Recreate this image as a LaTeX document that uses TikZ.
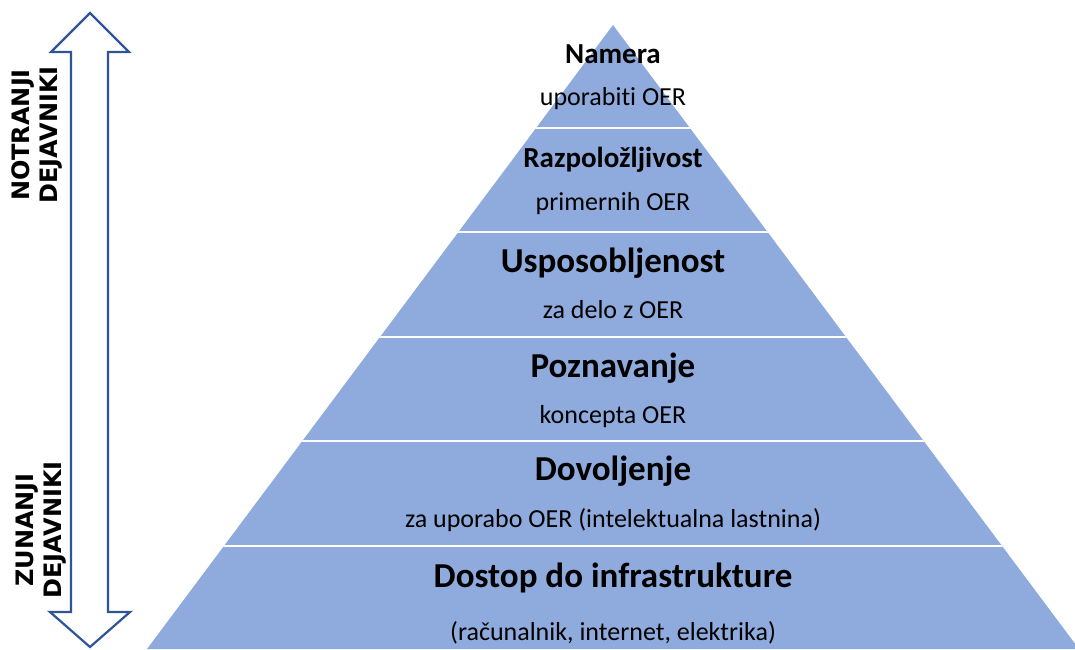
\documentclass[tikz,border=0pt]{standalone}
\usepackage{fontspec}
\setmainfont{Carlito}[Ligatures={NoCommon,NoRare,NoContextual},Contextuals=NoAlternate]
\newfontfamily\sidefont{DejaVu Sans}
\usetikzlibrary{calc}
\definecolor{pyrblue}{RGB}{143,170,220}
\definecolor{arrblue}{RGB}{47,85,151}
\tikzset{
  headsmall/.style={font=\bfseries\fontsize{29}{34}\selectfont, anchor=base},
  headbig/.style={font=\bfseries\fontsize{35}{40}\selectfont, anchor=base},
  subtext/.style={font=\fontsize{26}{30}\selectfont, anchor=base},
  sidetext/.style={font=\sidefont\bfseries\fontsize{24}{28}\selectfont, rotate=90, align=center},
  sepline/.style={white, line width=2},
}

\begin{document}
\begin{tikzpicture}[x=1pt,y=-1pt]
    \useasboundingbox (0,0) rectangle (1075,649);
    % pyramid
    \coordinate (apex) at (613,25);
    \coordinate (bl) at (147,649);
    \coordinate (br) at (1079,649);
    \fill[pyrblue] (apex) -- (bl) -- (br) -- cycle;
    \begin{scope}
      \clip (apex) -- (bl) -- (br) -- cycle;
      \foreach \y in {128,232,337,441,546}
        \draw[sepline] (0,\y) -- (1075,\y);
    \end{scope}

    % double arrow
    \draw[arrblue, line width=2.2, fill=white] (90,13) coordinate (atop)
      -- (129,52) -- (108,52) -- (108,612) -- (130,612)
      -- (90,647) coordinate (abot)
      -- (50,612) -- (71,612) -- (71,52) -- (51,52) -- cycle;

    \node[sidetext] (notranji) at (37,135) {NOTRANJI\\DEJAVNIKI};
    \node[sidetext] (zunanji) at (41,530) {ZUNANJI\\DEJAVNIKI};

    % levels
    \node[headsmall] (namera) at (613,63) {Namera};
    \node[subtext] (namerasub) at (613,105) {uporabiti OER};
    \node[headsmall] (razpol) at (613,167) {Razpoložljivost};
    \node[subtext] (razpolsub) at (613,210) {primernih OER};
    \node[headbig] (uspos) at (613,272) {Usposobljenost};
    \node[subtext] (usposub) at (613,318) {za delo z OER};
    \node[headbig] (pozn) at (613,377) {Poznavanje};
    \node[subtext] (poznsub) at (613,423) {koncepta OER};
    \node[headbig] (dovol) at (613,480) {Dovoljenje};
    \node[subtext] (dovolsub) at (613,527) {za uporabo OER (intelektualna lastnina)};
    \node[headbig] (dostop) at (613,587) {Dostop do infrastrukture};
    \node[subtext] (dostopsub) at (613,640) {(računalnik, internet, elektrika)};
\end{tikzpicture}
\end{document}
